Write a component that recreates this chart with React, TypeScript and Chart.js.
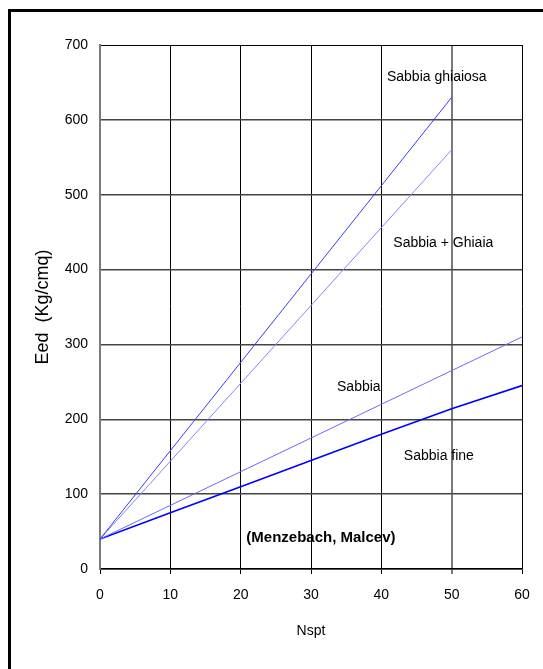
import React, { useEffect, useRef } from "react";
import { Chart, registerables } from "chart.js";

Chart.register(...registerables);

// Data (Nspt -> Eed in Kg/cmq)
const xTicks = [0, 10, 20, 30, 40, 50, 60];
const yTicks = [0, 100, 200, 300, 400, 500, 600, 700];

const ghiaiosaN = [0, 50];
const ghiaiosaE = [40, 630];

const sabbiaGhiaiaN = [0, 50];
const sabbiaGhiaiaE = [40, 560];

const sabbiaN = [0, 60];
const sabbiaE = [40, 310];

const fineN = [0, 10, 20, 30, 40, 50, 60];
const fineE = [40, 75, 110, 145, 180, 214, 245];

const curveLabels = ["Sabbia ghiaiosa", "Sabbia + Ghiaia", "Sabbia", "Sabbia fine"];
const sourceLabel = "(Menzebach, Malcev)";
const xTitle = "Nspt";
const yTitle = "Eed  (Kg/cmq)";

const toPoints = (xs: number[], ys: number[]) => xs.map((x, i) => ({ x, y: ys[i] }));

const FONT = "'Liberation Sans', Arial, sans-serif";

const labelPlugin = {
  id: "curveLabels",
  afterDatasetsDraw(chart: any) {
    const { ctx, scales } = chart;
    const xs = scales.x;
    const ys = scales.y;
    // anchors in data coordinates (left edge, vertical middle)
    const anchors: [string, number, number, boolean][] = [
      [curveLabels[0], 40.8, 657, false],
      [curveLabels[1], 41.7, 435, false],
      [curveLabels[2], 33.7, 243, false],
      [curveLabels[3], 43.2, 151, false],
      [sourceLabel, 20.8, 41.5, true],
    ];
    ctx.save();
    ctx.fillStyle = "#000";
    ctx.textAlign = "left";
    ctx.textBaseline = "middle";
    anchors.forEach(([t, x, y, bold]) => {
      ctx.font = (bold ? "bold 15px " : "14px ") + FONT;
      ctx.fillText(t, xs.getPixelForValue(x), ys.getPixelForValue(y));
    });
    ctx.restore();
  },
};

export default function App() {
  const ref = useRef<HTMLCanvasElement>(null);

  useEffect(() => {
    if (!ref.current) return;
    const chart = new Chart(ref.current, {
      type: "line",
      data: {
        datasets: [
          {
            label: curveLabels[0],
            data: toPoints(ghiaiosaN, ghiaiosaE),
            borderColor: "#3a3aff",
            borderWidth: 1,
            pointRadius: 0,
            tension: 0,
          },
          {
            label: curveLabels[1],
            data: toPoints(sabbiaGhiaiaN, sabbiaGhiaiaE),
            borderColor: "#8585ff",
            borderWidth: 1,
            pointRadius: 0,
            tension: 0,
          },
          {
            label: curveLabels[2],
            data: toPoints(sabbiaN, sabbiaE),
            borderColor: "#6a6aff",
            borderWidth: 1,
            pointRadius: 0,
            tension: 0,
          },
          {
            label: curveLabels[3],
            data: toPoints(fineN, fineE),
            borderColor: "#0000ff",
            borderWidth: 1.6,
            pointRadius: 0,
            tension: 0,
          },
        ],
      },
      options: {
        responsive: false,
        animation: false,
        events: [],
        layout: { padding: { left: 0, top: 45, right: 21, bottom: 0 } },
        plugins: {
          legend: { display: false },
          tooltip: { enabled: false },
        },
        scales: {
          x: {
            type: "linear",
            min: xTicks[0],
            max: xTicks[xTicks.length - 1],
            afterFit: (s: any) => {
              s.height = 100;
            },
            afterBuildTicks: (s: any) => {
              s.ticks = xTicks.map((v) => ({ value: v }));
            },
            ticks: {
              color: "#000",
              font: { family: FONT, size: 14 },
              padding: 13,
              maxRotation: 0,
            },
            grid: {
              color: (c: any) => (c.tick && c.tick.value === 50 ? "#7a7a7a" : "#000"),
              lineWidth: (c: any) => (c.tick && c.tick.value === 50 ? 2 : 1),
              drawTicks: true,
              tickLength: 5,
            },
            border: { color: "#000", width: 1.5 },
            title: {
              display: true,
              text: xTitle,
              color: "#000",
              font: { family: FONT, size: 14 },
              padding: { top: 0, bottom: 29 },
            },
          },
          y: {
            type: "linear",
            min: yTicks[0],
            max: yTicks[yTicks.length - 1],
            afterFit: (s: any) => {
              s.width = 100;
            },
            afterBuildTicks: (s: any) => {
              s.ticks = yTicks.map((v) => ({ value: v }));
            },
            ticks: {
              color: "#000",
              font: { family: FONT, size: 14 },
              padding: 12,
            },
            grid: {
              color: (c: any) => (c.tick && c.tick.value === 700 ? "#000" : "#444"),
              lineWidth: (c: any) => (c.tick && c.tick.value === 700 ? 1 : 1.5),
              drawTicks: false,
            },
            border: { color: "#7a7a7a", width: 2 },
            title: {
              display: true,
              text: yTitle,
              color: "#000",
              font: { family: FONT, size: 18 },
              padding: { top: 32, bottom: 0 },
            },
          },
        },
      },
      plugins: [labelPlugin],
    });
    return () => chart.destroy();
  }, []);

  return (
    <div style={{ position: "fixed", left: 0, top: 0, width: 543, height: 669, background: "#fff", overflow: "hidden" }}>
      <canvas ref={ref} width={543} height={669} style={{ position: "absolute", left: 0, top: 0, width: 543, height: 669 }} />
      <div
        style={{
          position: "absolute",
          left: 8,
          top: 9,
          width: 540,
          height: 665,
          borderLeft: "3px solid #000",
          borderTop: "3px solid #000",
          pointerEvents: "none",
        }}
      />
    </div>
  );
}
